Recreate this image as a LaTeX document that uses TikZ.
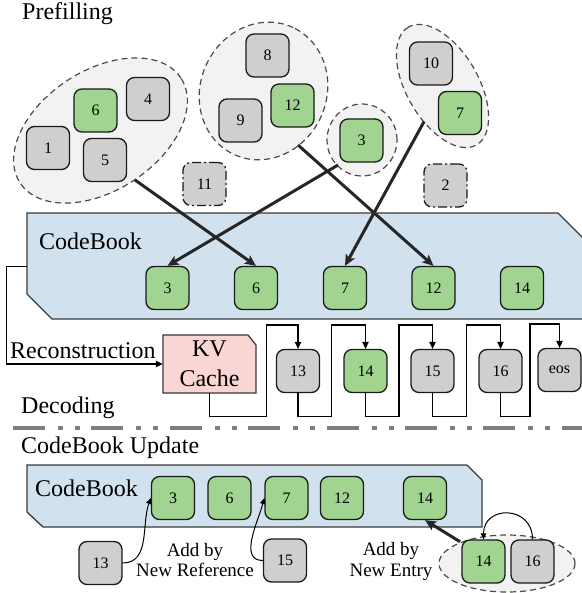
\documentclass[tikz,border=0pt]{standalone}
\usepackage{fontspec}
\setmainfont{Liberation Serif}
\usetikzlibrary{shapes.geometric,arrows.meta,calc}

\definecolor{boxgreen}{HTML}{A1D391}
\definecolor{boxgray}{HTML}{D0CECE}
\definecolor{boxline}{HTML}{1A1A1A}
\definecolor{grpfill}{HTML}{F2F2F2}
\definecolor{grpline}{HTML}{4A4A4A}
\definecolor{cbfill}{HTML}{D2E1EE}
\definecolor{cbline}{HTML}{3A3A3A}
\definecolor{kvfill}{HTML}{F9D6D4}
\definecolor{arrowdark}{HTML}{262626}
\definecolor{sepgray}{HTML}{7F7F7F}

\tikzset{
  blk/.style={rounded corners=8pt, minimum width=43pt, minimum height=43pt,
    inner sep=0pt, line width=1.3pt, draw=boxline, font=\fontsize{16}{19}\selectfont},
  gbox/.style={blk, fill=boxgreen},
  ybox/.style={blk, fill=boxgray},
  lone/.style={ybox, dash pattern=on 9pt off 3pt on 2pt off 3pt},
  grp/.style={ellipse, draw=grpline, fill=grpfill, inner sep=0pt,
    line width=1.2pt, dash pattern=on 6pt off 4pt},
  cbshape/.style={fill=cbfill, draw=cbline, line width=1.3pt},
  bigarrow/.style={line width=3pt, draw=arrowdark,
    -{Stealth[length=11pt,width=10pt,inset=2.5pt]}},
  flow/.style={line width=1.2pt, draw=black, -{Triangle[length=7pt,width=6.5pt]}},
  thin/.style={line width=1pt, draw=black, -{Triangle[length=6pt,width=5.5pt]}},
  lbl/.style={font=\fontsize{24}{29}\selectfont, inner sep=0pt, anchor=base west},
  note/.style={font=\fontsize{19}{20.3}\selectfont, align=center, inner sep=0pt},
}

\begin{document}
\begin{tikzpicture}[x=1pt, y=1pt]
\useasboundingbox (0,0) rectangle (581,-593);

% ---------------- Prefilling ----------------
\node[lbl] (tpre) at (22,-19.3) {Prefilling};

% token groups
\node[grp, minimum width=192pt, minimum height=120pt, rotate=33] (g1) at (100.5,-130.5) {};
\node[grp, minimum width=140pt, minimum height=126pt, rotate=65] (g2) at (263.5,-91) {};
\node[grp, minimum width=70pt, minimum height=72pt] (g3) at (362,-140) {};
\node[grp, minimum width=136pt, minimum height=72pt, rotate=120] (g4) at (442.5,-86) {};

\node[ybox] (p1) at (48,-148) {1};
\node[gbox] (p6) at (95.5,-110.5) {6};
\node[ybox] (p4) at (148,-99) {4};
\node[ybox] (p5) at (105,-160) {5};
\node[ybox] (p8) at (267.5,-55.5) {8};
\node[ybox] (p9) at (240.5,-120.5) {9};
\node[gbox] (p12) at (292.5,-105.5) {12};
\node[gbox] (p3) at (361.5,-140.5) {3};
\node[ybox] (p10) at (431,-63.5) {10};
\node[gbox] (p7) at (460,-113) {7};
\node[lone] (p11) at (204.5,-184) {11};
\node[lone] (p2) at (445.5,-185.5) {2};

% ---------------- CodeBook ----------------
\draw[cbshape] (27,-213) -- (558,-213) -- (592,-247) -- (592,-319)
  -- (52,-319) -- (27,-294) -- cycle;
\node[lbl] (tcb) at (39,-250) {CodeBook};

\node[gbox] (c3) at (167.5,-288) {3};
\node[gbox] (c6) at (256,-288) {6};
\node[gbox] (c7) at (345,-288) {7};
\node[gbox] (c12) at (433.5,-288) {12};
\node[gbox] (c14) at (522,-288) {14};

% group exits
\coordinate (s1) at (135,-180);
\coordinate (s2) at (298,-145);
\coordinate (s3) at (338,-165);
\coordinate (s4) at (424,-121.7);

\draw[bigarrow] (s1) -- (c6.north);
\draw[bigarrow] (s3) -- (c3.north);
\draw[bigarrow] (s2) -- (c12.north);
\draw[bigarrow] (s4) -- (c7.north);

% ---------------- Decoding ----------------
\draw[fill=kvfill, draw=cbline, line width=1.3pt]
  (163,-335) -- (248,-335) -- (256,-345) -- (256,-393) -- (163,-393) -- cycle;
\node[font=\fontsize{24}{29.7}\selectfont, align=center, inner sep=0pt,
  minimum width=93pt, minimum height=58pt] (kv) at (209.5,-364) {KV\\Cache};

\coordinate (cbedge) at (27,-266.7);
\draw[flow] (cbedge) -- (6.7,-266.7) |- (kv.west);
\node[lbl] (trec) at (10,-358) {Reconstruction};

\node[ybox] (d13) at (298,-371) {13};
\node[gbox] (d14) at (365.5,-371) {14};
\node[ybox] (d15) at (432.5,-371) {15};
\node[ybox] (d16) at (500.5,-371) {16};
\node[ybox] (deos) at (559.5,-370) {eos};

\draw[flow] (kv.south) |- (266.5,-416.7) -- (266.5,-325) -| (d13.north);
\draw[flow] (d13.south) |- (331.5,-416.7) -- (331.5,-325) -| (d14.north);
\draw[flow] (d14.south) |- (399,-416.7) -- (399,-325) -| (d15.north);
\draw[flow] (d15.south) |- (466.5,-416.7) -- (466.5,-325) -| (d16.north);
\draw[flow] (d16.south) |- (530,-416.7) -- (530,-324) -| (deos.north);

\node[lbl] (tdec) at (21,-413) {Decoding};

% separator
\draw[sepgray, line width=4pt,
  dash pattern=on 32pt off 13pt on 5pt off 12pt on 5pt off 11.4pt]
  (13,-428.3) -- (590,-428.3);

% ---------------- CodeBook Update ----------------
\node[lbl] (tupd) at (21,-453) {CodeBook Update};

\draw[cbshape] (27,-465) -- (467,-465) -- (482,-480) -- (482,-527)
  -- (43,-527) -- (27,-512) -- cycle;
\node[lbl] (tcb2) at (35,-496) {CodeBook};

\node[gbox] (l3) at (173,-498) {3};
\node[gbox] (l6) at (229.5,-498) {6};
\node[gbox] (l7) at (286.5,-498) {7};
\node[gbox] (l12) at (342,-498) {12};
\node[gbox] (l14) at (425,-498) {14};

\node[ybox] (n13) at (100.5,-563) {13};
\node[ybox] (n15) at (285,-560.5) {15};

\draw[thin] (n13.east) to[out=0, in=-110] (l3.west);
\draw[thin] (n15.west) to[out=180, in=-105] (l7.west);

\node[note] (tref) at (195,-560.3) {Add by\\New Reference};

\node[grp, minimum width=136pt, minimum height=57pt] (gn) at (507,-563.5) {};
\node[gbox] (e14) at (483.5,-561.5) {14};
\node[ybox] (e16) at (532.5,-561.5) {16};
\draw[thin] (e16.north) to[out=90, in=90, looseness=1.8] (e14.north);

\coordinate (sn) at (460,-541.7);
\draw[bigarrow] (sn) -- (l14.south);

\node[note] (tent) at (391,-561.5) {Add by\\New Entry};
\end{tikzpicture}
\end{document}
